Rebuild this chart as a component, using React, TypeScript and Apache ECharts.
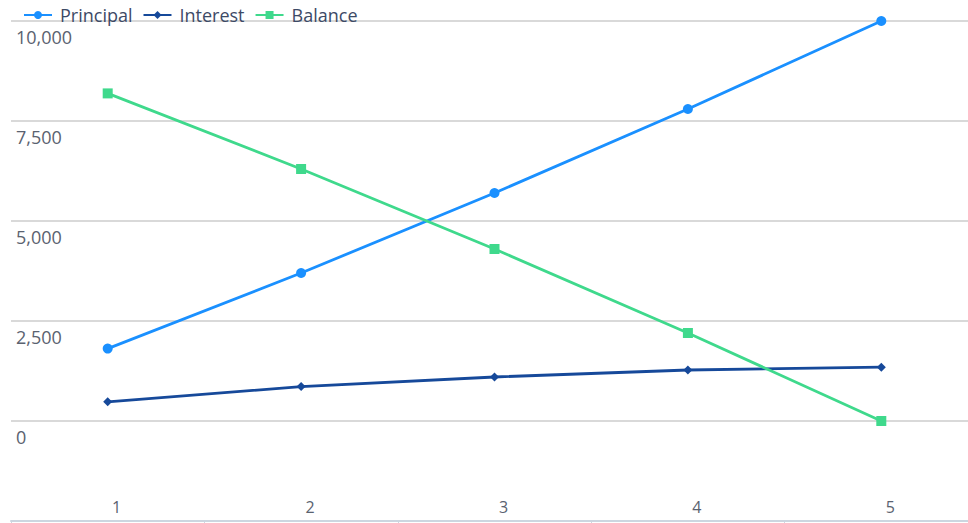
import React, { useEffect, useRef } from "react";
import * as echarts from "echarts";

const categories = ["1", "2", "3", "4", "5"];
const principal = [1810, 3700, 5700, 7800, 10000];
const interest = [480, 860, 1100, 1275, 1345];
const balance = [8190, 6300, 4300, 2200, 0];

const FONT = "'Open Sans', sans-serif";

export default function App() {
  const ref = useRef<HTMLDivElement>(null);
  useEffect(() => {
    if (!ref.current) return;
    const chart = echarts.init(ref.current, null, { renderer: "svg" });
    chart.setOption({
      animation: false,
      legend: {
        left: 18,
        top: 1,
        itemWidth: 28,
        itemHeight: 10,
        itemGap: 10,
        textStyle: { fontFamily: FONT, fontSize: 18, color: "#3d4a66", padding: [0, 0, 0, 3] },
        data: ["Principal", "Interest", "Balance"],
      },
      grid: { left: 11, right: 0, top: 21, bottom: 2, containLabel: false },
      xAxis: {
        type: "category",
        data: categories,
        boundaryGap: true,
        axisLine: { onZero: false, lineStyle: { color: "#ccd6e0", width: 2 } },
        axisTick: { show: true, inside: false, length: 5, lineStyle: { color: "#ccd6e0" } },
        axisLabel: {
          inside: true,
          margin: 6,
          padding: [0, 0, 0, 18],
          fontFamily: FONT,
          fontSize: 16,
          color: "#5a6270",
        },
        splitLine: { show: false },
      },
      yAxis: {
        type: "value",
        min: -2500,
        max: 10000,
        interval: 2500,
        axisLine: { show: false },
        axisTick: { show: false },
        axisLabel: {
          inside: true,
          margin: 5,
          align: "left",
          verticalAlign: "top",
          padding: [7, 0, 0, 0],
          fontFamily: FONT,
          fontSize: 18,
          color: "#5a6270",
          formatter: (v: number) => (v < 0 ? "" : v.toLocaleString("en-US")),
        },
        splitLine: { lineStyle: { color: "#d9d9d9", width: 2 } },
      },
      series: [
        {
          name: "Principal",
          type: "line",
          data: principal,
          symbol: "circle",
          symbolSize: 10,
          lineStyle: { width: 2.8, color: "#1a90ff" },
          itemStyle: { color: "#1a90ff" },
        },
        {
          name: "Interest",
          type: "line",
          data: interest,
          symbol: "diamond",
          symbolSize: 9,
          lineStyle: { width: 2.8, color: "#16499a" },
          itemStyle: { color: "#16499a" },
        },
        {
          name: "Balance",
          type: "line",
          data: balance,
          symbol: "rect",
          symbolSize: 10,
          lineStyle: { width: 2.8, color: "#3fd98c" },
          itemStyle: { color: "#3fd98c" },
        },
      ],
    });
    return () => chart.dispose();
  }, []);
  return (
    <div style={{ width: 968, height: 523, position: "absolute", left: 0, top: 0, overflow: "hidden" }}>
      <div ref={ref} style={{ width: 978, height: 523 }} />
    </div>
  );
}
